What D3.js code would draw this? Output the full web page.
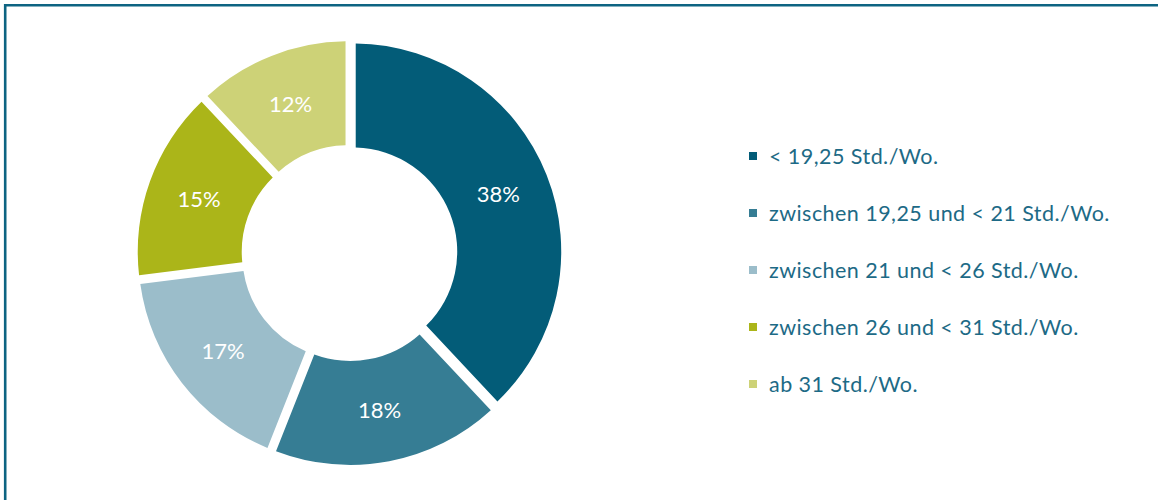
<!DOCTYPE html>
<html>
<head>
<meta charset="utf-8">
<script src="https://cdn.jsdelivr.net/npm/d3@7"></script>
<style>
  html, body { margin: 0; padding: 0; background: #fff; }
  svg { display: block; }
</style>
</head>
<body>
<svg id="chart"></svg>
<script>
(function() {

  var categories = [
    "< 19,25 Std./Wo.",
    "zwischen 19,25 und < 21 Std./Wo.",
    "zwischen 21 und < 26 Std./Wo.",
    "zwischen 26 und < 31 Std./Wo.",
    "ab 31 Std./Wo."
  ];
  var shares = [38, 18, 17, 15, 12];
  var colors = ["#035c78", "#367d94", "#9bbdca", "#abb519", "#cdd277"];

  var width = 1158,
      height = 500;

  var cx = 349.5,
      cy = 253,
      outer = 208,
      inner = 104,
      explode = 4;

  var svg = d3.select("#chart")
      .attr("width", width)
      .attr("height", height);

  // frame (top + left only)
  svg.append("path")
      .attr("d", "M5.2,500V5.2H1158")
      .attr("fill", "none")
      .attr("stroke", "#0d6482")
      .attr("stroke-width", 2.6);

  var pie = d3.pie()
      .sort(null)
      .value(d => d.value);

  var arc = d3.arc()
      .innerRadius(inner)
      .outerRadius(outer)
      .padAngle(5 / outer)
      .padRadius(outer);

  var labelArc = d3.arc()
      .innerRadius((inner + outer) / 2)
      .outerRadius((inner + outer) / 2);

  var data = shares.map((v, i) => ({ name: categories[i], value: v, color: colors[i] }));
  var arcs = pie(data);

  var donut = svg.append("g")
      .attr("transform", "translate(" + cx + "," + cy + ")");

  var slice = donut.selectAll(".slice")
      .data(arcs)
    .enter().append("g")
      .attr("class", "slice")
      .attr("transform", function(d) {
        var a = (d.startAngle + d.endAngle) / 2;
        return "translate(" + (explode * Math.sin(a)) + "," + (-explode * Math.cos(a)) + ")";
      });

  slice.append("path")
      .attr("d", arc)
      .attr("fill", d => d.data.color);

  slice.append("text")
      .attr("transform", d => "translate(" + labelArc.centroid(d) + ")")
      .attr("text-anchor", "middle")
      .attr("dy", "0.36em")
      .style("font", "22px Lato, 'Open Sans', sans-serif")
      .attr("fill", "#fff")
      .text(d => d.data.value + "%");

  // legend
  var legendY = d3.scalePoint()
      .domain(categories)
      .range([156, 384]);

  var legend = svg.append("g")
      .attr("class", "legend");

  var item = legend.selectAll(".item")
      .data(data)
    .enter().append("g")
      .attr("class", "item")
      .attr("transform", d => "translate(749," + legendY(d.name) + ")");

  item.append("rect")
      .attr("x", 0)
      .attr("y", -4)
      .attr("width", 8)
      .attr("height", 8)
      .attr("fill", d => d.color);

  item.append("text")
      .attr("x", 20)
      .attr("y", 7.5)
      .style("font", "21.5px Lato, 'Open Sans', sans-serif")
      .style("letter-spacing", "0.45px")
      .attr("fill", "#1d6a86")
      .text(d => d.name);

})();
</script>
</body>
</html>
